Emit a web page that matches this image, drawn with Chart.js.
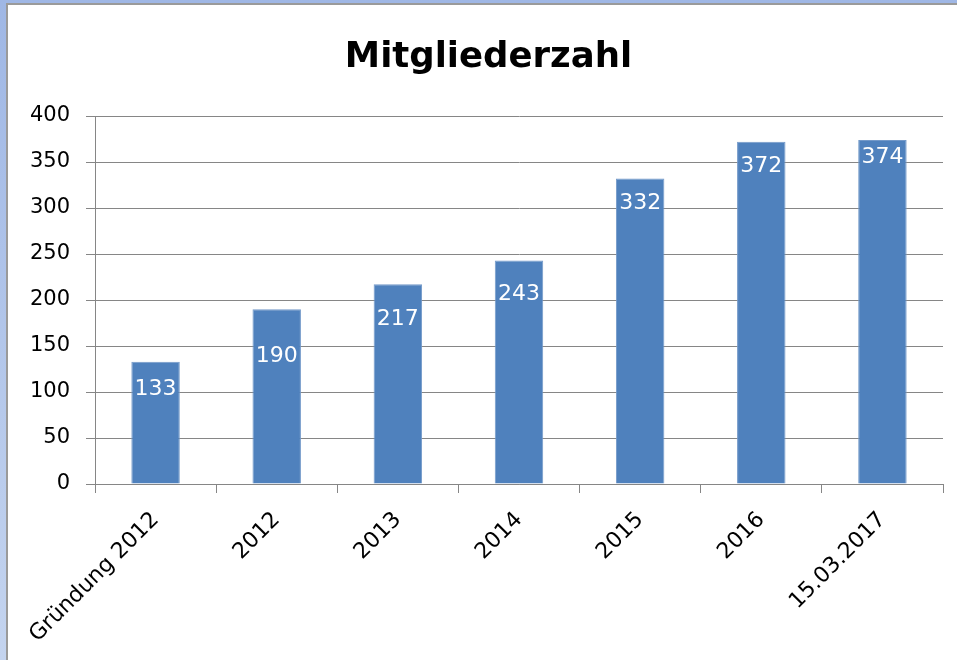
<!DOCTYPE html>
<html>
<head>
<meta charset="utf-8">
<script src="https://cdn.jsdelivr.net/npm/chart.js@4/dist/chart.umd.min.js"></script>
<style>
  body { margin: 0; }
  #frame { position: absolute; left: 0; top: 0; width: 957px; height: 660px; background: linear-gradient(#9fb7e5, #c4d4ef); }
  #inner { position: absolute; left: 6px; top: 3px; width: 949px; height: 655px; background: #fff; border-left: 2px solid #9a9a9a; border-top: 2px solid #9a9a9a; }
</style>
</head>
<body>
<div id="frame"><div id="inner"><canvas id="chart1" width="949" height="655"></canvas></div></div>
<script>
// data
const labels = ['Gründung 2012', '2012', '2013', '2014', '2015', '2016', '15.03.2017']
const mitglieder = [133, 190, 217, 243, 332, 372, 374]
const yTicks = [0, 50, 100, 150, 200, 250, 300, 350, 400]

// how far below the bar top each value label sits (px)
const labelDrop = [28, 47, 35, 34, 25, 25, 17]

const font = 'DejaVu Sans'

const valueLabels = {
  id: 'valueLabels',
  afterLayout(chart) {
    // title in the original is centred a bit right of the canvas middle
    if (chart.titleBlock) chart.titleBlock.left += 26
  },
  afterDatasetsDraw(chart) {
    const ctx = chart.ctx
    const meta = chart.getDatasetMeta(0)
    ctx.save()
    ctx.fillStyle = '#ffffff'
    ctx.font = '22px "' + font + '"'
    ctx.textAlign = 'center'
    ctx.textBaseline = 'middle'
    meta.data.forEach((bar, i) => {
      ctx.fillText(String(mitglieder[i]), bar.x, bar.y + labelDrop[i])
    })
    ctx.restore()
  }
}

var ctx = document.getElementById('chart1').getContext('2d')
var chart1 = new Chart(ctx, {
  type: 'bar',
  data: {
    labels: labels,
    datasets: [{
      data: mitglieder,
      backgroundColor: '#4f81bd',
      borderColor: '#7399c9',
      borderWidth: 1,
      categoryPercentage: 1,
      barPercentage: 0.4
    }]
  },
  options: {
    responsive: false,
    animation: false,
    layout: { padding: { left: 0, right: 14, top: 0, bottom: 0 } },
    plugins: {
      legend: { display: false },
      tooltip: { enabled: false },
      title: {
        display: true,
        text: 'Mitgliederzahl',
        color: '#000',
        font: { family: font, size: 35.5, weight: 'bold' },
        padding: { top: 31, bottom: 37.4 }
      }
    },
    scales: {
      x: {
        grid: { drawOnChartArea: false, drawTicks: true, tickLength: 9, color: '#868686', offset: true },
        border: { color: '#868686', width: 1 },
        ticks: {
          color: '#000',
          font: { family: font, size: 22 },
          maxRotation: 45,
          minRotation: 45,
          padding: 14
        },
        afterFit: s => { s.height = 176 }
      },
      y: {
        min: 0,
        max: 400,
        afterBuildTicks: s => { s.ticks = yTicks.map(v => ({ value: v })) },
        grid: { color: '#868686', tickLength: 9 },
        border: { color: '#868686', width: 1 },
        ticks: {
          color: '#000',
          font: { family: font, size: 21 },
          padding: 16
        },
        afterFit: s => { s.width = 87 }
      }
    }
  },
  plugins: [valueLabels]
})
</script>
</body>
</html>
